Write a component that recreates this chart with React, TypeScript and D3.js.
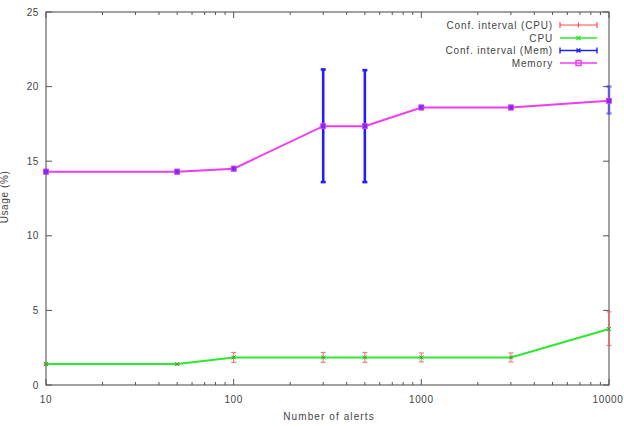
import React from "react";
import * as d3 from "d3";

const alerts = [10, 50, 100, 300, 500, 1000, 3000, 10000];
const memory = [14.3, 14.3, 14.5, 17.35, 17.35, 18.6, 18.6, 19.05];
const memLow = [14.2, 14.2, 14.4, 13.6, 13.6, 18.5, 18.5, 18.2];
const memHigh = [14.4, 14.4, 14.6, 21.15, 21.1, 18.7, 18.7, 20.0];
const cpu = [1.4, 1.4, 1.85, 1.85, 1.85, 1.85, 1.85, 3.75];
const cpuLow = [1.35, 1.35, 1.52, 1.52, 1.52, 1.55, 1.55, 2.65];
const cpuHigh = [1.45, 1.45, 2.18, 2.18, 2.18, 2.15, 2.15, 4.9];
const yTicks = [0, 5, 10, 15, 20, 25];
const xTicks = [10, 100, 1000, 10000];
const legendLabels = ["Conf. interval (CPU)", "CPU", "Conf. interval (Mem)", "Memory"];

const W = 624, H = 426;
const L = 46, R = 609, T = 12, B = 385;
const FONT = "'Liberation Sans', Arial, sans-serif";
const TXT = "#444";

export default function App() {
  const x = d3.scaleLog().domain([10, 10000]).range([L, R]);
  const y = d3.scaleLinear().domain([0, 25]).range([B, T]);
  const minor: number[] = [];
  for (let d = 10; d < 10000; d *= 10) for (let k = 2; k <= 9; k++) minor.push(d * k);
  const line = d3.line<number>().x((_, i) => x(alerts[i])).y((v) => y(v));

  const red = "#ff4d4d", green = "#2ee82e", blue = "#1f1fff", mag = "#f03cf0";
  const legY = [25, 38, 50.5, 63];
  const lx0 = 560, lx1 = 597, lxm = 578.5;

  return (
    <svg width={W} height={H} style={{ position: "absolute", left: 0, top: 0, background: "#fff" }}>
      <style>{"body{margin:0}"}</style>
      <rect x={0} y={0} width={W} height={H} fill="#fff" />
      <rect x={L} y={T} width={R - L} height={B - T} fill="none" stroke="#555" strokeWidth={1.1} />
      {yTicks.map((t) => (
        <g key={"y" + t}>
          <line x1={L} x2={L + 6} y1={y(t)} y2={y(t)} stroke="#555" />
          <line x1={R} x2={R - 6} y1={y(t)} y2={y(t)} stroke="#555" />
          <text x={39} y={y(t) + 3.5} textAnchor="end" fontFamily={FONT} fontSize={10} fill={TXT} letterSpacing={0.6}>{t}</text>
        </g>
      ))}
      {xTicks.map((t) => (
        <g key={"x" + t}>
          <line x1={x(t)} x2={x(t)} y1={B} y2={B - 6} stroke="#555" />
          <line x1={x(t)} x2={x(t)} y1={T} y2={T + 6} stroke="#555" />
          <text x={x(t) - (t === 10000 ? 1 : 0)} y={403} textAnchor="middle" fontFamily={FONT} fontSize={10} fill={TXT} letterSpacing={0.6}>{t}</text>
        </g>
      ))}
      {minor.map((t) => (
        <g key={"m" + t}>
          <line x1={x(t)} x2={x(t)} y1={B} y2={B - 3} stroke="#555" />
          <line x1={x(t)} x2={x(t)} y1={T} y2={T + 3} stroke="#555" />
        </g>
      ))}
      <text x={329} y={420} textAnchor="middle" fontFamily={FONT} fontSize={10} fill={TXT} letterSpacing={1.1}>Number of alerts</text>
      <text transform={`translate(8,197) rotate(-90)`} textAnchor="middle" fontFamily={FONT} fontSize={10} fill={TXT} letterSpacing={0.6}>Usage (%)</text>

      {alerts.map((a, i) => (
        <g key={"ce" + i} stroke={red} strokeWidth={1.2} opacity={0.75}>
          <line x1={x(a)} x2={x(a)} y1={y(cpuLow[i])} y2={y(cpuHigh[i])} />
          <line x1={x(a) - 2.5} x2={x(a) + 2.5} y1={y(cpuLow[i])} y2={y(cpuLow[i])} />
          <line x1={x(a) - 2.5} x2={x(a) + 2.5} y1={y(cpuHigh[i])} y2={y(cpuHigh[i])} />
        </g>
      ))}
      <path d={line(cpu) || ""} fill="none" stroke={green} strokeWidth={2} />
      {alerts.map((a, i) => (
        <g key={"cp" + i} stroke="#1fa61f" strokeWidth={1}>
          <line x1={x(a) - 2} x2={x(a) + 2} y1={y(cpu[i]) - 2} y2={y(cpu[i]) + 2} />
          <line x1={x(a) - 2} x2={x(a) + 2} y1={y(cpu[i]) + 2} y2={y(cpu[i]) - 2} />
        </g>
      ))}

      {alerts.map((a, i) => (
        <g key={"me" + i} stroke={blue} strokeWidth={2.6} opacity={i === alerts.length - 1 ? 0.5 : 1}>
          <line x1={x(a)} x2={x(a)} y1={y(memLow[i])} y2={y(memHigh[i])} />
          <line x1={x(a) - 2.5} x2={x(a) + 2.5} y1={y(memLow[i])} y2={y(memLow[i])} />
          <line x1={x(a) - 2.5} x2={x(a) + 2.5} y1={y(memHigh[i])} y2={y(memHigh[i])} />
        </g>
      ))}
      <path d={line(memory) || ""} fill="none" stroke={mag} strokeWidth={2} />
      {alerts.map((a, i) => (
        <g key={"mp" + i}>
          <rect x={x(a) - 2.5} y={y(memory[i]) - 2.5} width={5} height={5} fill="#7a2cf0" stroke={mag} strokeWidth={0.8} />
        </g>
      ))}

      {legendLabels.map((lab, i) => (
        <text key={lab} x={553} y={legY[i] + 3.5} textAnchor="end" fontFamily={FONT} fontSize={10} fill={TXT} letterSpacing={0.85}>{lab}</text>
      ))}
      <g stroke={red} strokeWidth={1.2}>
        <line x1={lx0} x2={lx1} y1={legY[0]} y2={legY[0]} />
        <line x1={lx0} x2={lx0} y1={legY[0] - 3} y2={legY[0] + 3} />
        <line x1={lx1} x2={lx1} y1={legY[0] - 3} y2={legY[0] + 3} />
        <line x1={lxm} x2={lxm} y1={legY[0] - 2.5} y2={legY[0] + 2.5} />
      </g>
      <g stroke={green} strokeWidth={1.5}>
        <line x1={lx0} x2={lx1} y1={legY[1]} y2={legY[1]} />
        <line x1={lxm - 2} x2={lxm + 2} y1={legY[1] - 2} y2={legY[1] + 2} />
        <line x1={lxm - 2} x2={lxm + 2} y1={legY[1] + 2} y2={legY[1] - 2} />
      </g>
      <g stroke={blue} strokeWidth={1.4}>
        <line x1={lx0} x2={lx1} y1={legY[2]} y2={legY[2]} />
        <line x1={lx0} x2={lx0} y1={legY[2] - 3} y2={legY[2] + 3} />
        <line x1={lx1} x2={lx1} y1={legY[2] - 3} y2={legY[2] + 3} />
        <line x1={lxm - 2} x2={lxm + 2} y1={legY[2] - 2} y2={legY[2] + 2} />
        <line x1={lxm - 2} x2={lxm + 2} y1={legY[2] + 2} y2={legY[2] - 2} />
      </g>
      <g stroke={mag} strokeWidth={1.5}>
        <line x1={lx0} x2={lx1} y1={legY[3]} y2={legY[3]} />
        <rect x={lxm - 2.5} y={legY[3] - 2.5} width={5} height={5} fill="none" />
      </g>
    </svg>
  );
}
